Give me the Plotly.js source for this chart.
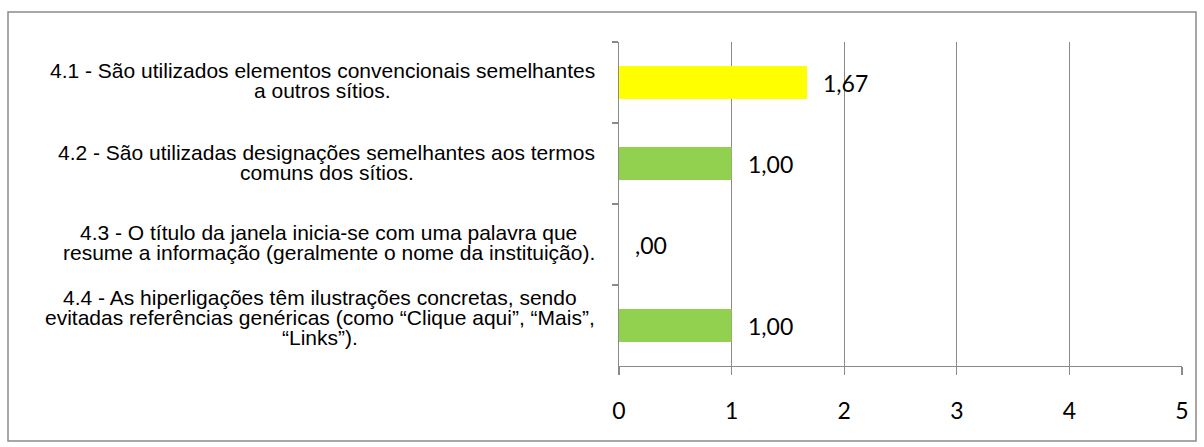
<!DOCTYPE html>
<html>
<head>
<meta charset="utf-8">
<script src="https://cdn.plot.ly/plotly-3.0.1.min.js"></script>
<style>
  html, body { margin: 0; padding: 0; background: #fff; }
  #chart { width: 1204px; height: 447px; }
</style>
</head>
<body>
<div id="chart"></div>
<script>
// ---- data ----
const categories = ['item 4.1', 'item 4.2', 'item 4.3', 'item 4.4'];
const categoryLabelLines = [
  ['4.1 - São utilizados elementos convencionais semelhantes', 'a outros sítios.'],
  ['4.2 - São utilizadas designações semelhantes aos termos', 'comuns dos sítios.'],
  ['4.3 - O título da janela inicia-se com uma palavra que', 'resume a informação (geralmente o nome da instituição).'],
  ['4.4 - As hiperligações têm ilustrações concretas, sendo', 'evitadas referências genéricas (como “Clique aqui”, “Mais”,', '“Links”).']
];
const values = [1.67, 1.00, 0.00, 1.00];
const valueLabels = ['1,67', '1,00', ',00', '1,00'];
const barColors = ['#FFFF00', '#92D050', '#92D050', '#92D050'];
const xTickVals = [0, 1, 2, 3, 4, 5];

// ---- layout geometry (pixels) ----
const W = 1204, H = 447;
const L = 619, R = 1182, T = 42, B = 366;
const pw = R - L, ph = B - T;
const px2paperX = p => (p - L) / pw;
const px2paperY = p => (B - p) / ph;
const lineStep = 20;             // spacing between label lines
const blockShift = [2, 1, 2, 8]; // upward shift of each label block
const labelRight = 595;          // right edge of the label blocks (px)
const labelFont = 'Liberation Sans, Arial, sans-serif';
const labelSize = 21;

const gridColor = '#8a8a8a';

const trace = {
  type: 'bar',
  orientation: 'h',
  x: values,
  y: categories,
  marker: { color: barColors, line: { width: 0 } },
  hoverinfo: 'skip'
};

// measure lines so each block is centred, widest line ending at labelRight
const ctx = document.createElement('canvas').getContext('2d');
ctx.font = labelSize + 'px "Liberation Sans", Arial, sans-serif';

const annotations = [];
categories.forEach((c, i) => {
  const lines = categoryLabelLines[i];
  const n = lines.length;
  const maxW = Math.max.apply(null, lines.map(s => ctx.measureText(s).width));
  const centerPx = labelRight - maxW / 2;
  lines.forEach((ln, k) => {
    annotations.push({
      xref: 'paper', yref: 'y',
      x: px2paperX(centerPx), y: c,
      xanchor: 'center', yanchor: 'middle', align: 'center',
      yshift: ((n - 1) / 2 - k) * lineStep + blockShift[i],
      borderpad: 0,
      text: ln, showarrow: false,
      font: { family: labelFont, size: labelSize, color: '#000' }
    });
  });
  annotations.push({
    xref: 'x', yref: 'y',
    x: values[i], y: c,
    xanchor: 'left', yanchor: 'middle', xshift: 14,
    text: valueLabels[i], showarrow: false,
    font: { family: 'Lato, sans-serif', size: 23, color: '#000' }
  });
});

const layout = {
  width: W, height: H,
  margin: { l: L, r: W - R, t: T, b: H - B, pad: 0 },
  paper_bgcolor: '#fff', plot_bgcolor: '#fff',
  showlegend: false,
  bargap: 0.59,
  xaxis: {
    range: [0, 5], tickvals: xTickVals, ticktext: xTickVals.map(String),
    showgrid: true, gridcolor: gridColor, gridwidth: 1.3,
    zeroline: false,
    showline: true, linecolor: gridColor, linewidth: 1.3,
    ticks: 'outside', ticklen: 8, tickcolor: gridColor, tickwidth: 1.3,
    ticklabelstandoff: 16,
    tickfont: { family: 'Lato, sans-serif', size: 23, color: '#000' },
    fixedrange: true
  },
  yaxis: {
    type: 'category', autorange: 'reversed',
    showticklabels: false, showgrid: false, zeroline: false,
    showline: true, linecolor: gridColor, linewidth: 1.3,
    ticks: 'outside', tickson: 'boundaries', ticklen: 6, tickcolor: gridColor, tickwidth: 1.3,
    fixedrange: true
  },
  shapes: [{
    type: 'rect', xref: 'paper', yref: 'paper', layer: 'above',
    x0: px2paperX(8), x1: px2paperX(1196),
    y0: px2paperY(441), y1: px2paperY(12),
    line: { color: '#8a8a8a', width: 1.5 }, fillcolor: 'rgba(0,0,0,0)'
  }],
  annotations: annotations
};

Plotly.newPlot('chart', [trace], layout, { staticPlot: true, displayModeBar: false });
</script>
</body>
</html>
